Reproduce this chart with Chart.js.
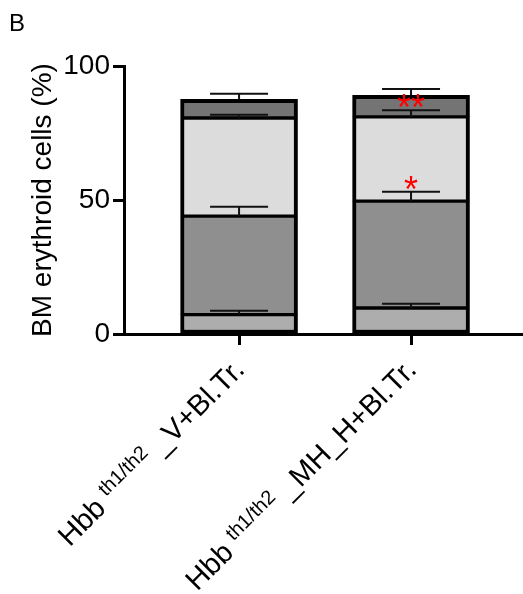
<!DOCTYPE html>
<html lang="en">
  <head>
    <meta charset="UTF-8" />
    <title>BM erythroid cells</title>
    <script src="https://cdn.jsdelivr.net/npm/chart.js@4.4.0/dist/chart.umd.min.js"></script>
    <style>
      body {
        margin: 0;
        padding: 0;
        background: white;
      }
      .container {
        position: relative;
        width: 523px;
        height: 594px;
      }
    </style>
  </head>
  <body>
    <div class="container">
      <canvas id="chart"></canvas>
    </div>
    <script>
      // category labels: base text, superscript, rest
      const labelBase = ['Hbb', 'Hbb']
      const labelSup = ['th1/th2', 'th1/th2']
      const labelRest = [' _V+Bl.Tr.', ' _MH_H+Bl.Tr.']

      // stacked segments, bottom to top (% of BM erythroid cells)
      const segment1 = [7.2, 9.7]
      const segment2 = [36.8, 39.9]
      const segment3 = [36.6, 31.4]
      const segment4 = [7.0, 8.1]

      // upper error (SD) of each segment
      const error1 = [1.5, 1.6]
      const error2 = [3.5, 3.5]
      const error3 = [1.2, 2.5]
      const error4 = [2.0, 2.3]

      // significance marks above segment error bars
      const stars2 = ['', '*']
      const stars3 = ['', '**']

      const yTicks = [0, 50, 100]

      const segments = [segment1, segment2, segment3, segment4]
      const errors = [error1, error2, error3, error4]
      const stars = [[], stars2, stars3, []]
      const fills = ['#adadad', '#8f8f8f', '#dcdcdc', '#747474']
      const borders = [
        { top: 2, bottom: 4, left: 4, right: 4 },
        { top: 2, bottom: 2, left: 4, right: 4 },
        { top: 2, bottom: 2, left: 4, right: 4 },
        { top: 4, bottom: 2, left: 4, right: 4 },
      ]

      const FONT = 'Arial, "Liberation Sans", sans-serif'
      Chart.defaults.font.family = FONT
      Chart.defaults.color = '#000'

      const extras = {
        id: 'extras',
        afterDatasetsDraw(chart) {
          const { ctx, scales } = chart
          const x = scales.x
          const y = scales.y
          ctx.save()
          ctx.strokeStyle = '#111'
          ctx.lineWidth = 2
          segments.forEach((seg, s) => {
            seg.forEach((v, i) => {
              let top = 0
              for (let k = 0; k <= s; k++) top += segments[k][i]
              const px = x.getPixelForValue(i)
              const y0 = y.getPixelForValue(top)
              const y1 = y.getPixelForValue(top + errors[s][i])
              ctx.beginPath()
              ctx.moveTo(px, y0)
              ctx.lineTo(px, y1)
              ctx.moveTo(px - 29, y1)
              ctx.lineTo(px + 29, y1)
              ctx.stroke()
              const mark = stars[s][i]
              if (mark) {
                ctx.fillStyle = '#ff0000'
                ctx.font = '36px ' + FONT
                ctx.textAlign = 'center'
                ctx.textBaseline = 'alphabetic'
                ctx.fillText(mark, px, y1 + 10)
              }
            })
          })
          ctx.restore()
        },
        afterDraw(chart) {
          const { ctx, scales } = chart
          const x = scales.x
          const y = scales.y
          ctx.save()
          ctx.fillStyle = '#000'
          ctx.textBaseline = 'alphabetic'
          ctx.textAlign = 'left'
          ctx.font = '24px ' + FONT
          ctx.fillText('B', 9, 31)

          labelBase.forEach((base, i) => {
            const px = x.getPixelForValue(i) + 7
            const py = y.getPixelForValue(0) + 37
            ctx.save()
            ctx.translate(px, py)
            ctx.rotate(-Math.PI / 4)
            ctx.textAlign = 'right'
            ctx.font = '29px ' + FONT
            ctx.fillText(labelRest[i], 0, 0)
            const wRest = ctx.measureText(labelRest[i]).width
            ctx.font = '20px ' + FONT
            ctx.fillText(labelSup[i], -wRest, -10)
            const wSup = ctx.measureText(labelSup[i]).width
            ctx.font = '29px ' + FONT
            ctx.fillText(base + ' ', -wRest - wSup, 0)
            ctx.restore()
          })
          ctx.restore()
        },
      }

      new Chart(document.getElementById('chart'), {
        type: 'bar',
        data: {
          datasets: segments.map((seg, s) => ({
            data: seg.map((v, i) => ({ x: i, y: v })),
            backgroundColor: fills[s],
            borderColor: '#000',
            borderWidth: borders[s],
            borderSkipped: false,
            barThickness: 117,
          })),
        },
        options: {
          responsive: true,
          maintainAspectRatio: false,
          animation: false,
          layout: { padding: { top: 66, left: 0, right: 0, bottom: 0 } },
          plugins: {
            legend: { display: false },
            tooltip: { enabled: false },
          },
          scales: {
            x: {
              type: 'linear',
              stacked: true,
              offset: false,
              min: -0.669,
              max: 1.651,
              afterBuildTicks: (scale) => {
                scale.ticks = labelBase.map((l, i) => ({ value: i }))
              },
              afterFit: (scale) => {
                scale.height = 260
              },
              ticks: { display: false },
              grid: {
                offset: false,
                drawOnChartArea: false,
                drawTicks: true,
                tickLength: 11,
                tickWidth: 3,
                tickColor: '#000',
              },
              border: { color: '#000', width: 3 },
            },
            y: {
              stacked: true,
              min: 0,
              max: 100,
              afterBuildTicks: (scale) => {
                scale.ticks = yTicks.map((v) => ({ value: v }))
              },
              afterFit: (scale) => {
                scale.width = 124
              },
              ticks: {
                font: { size: 28 },
                color: '#000',
                padding: 3,
              },
              grid: {
                drawOnChartArea: false,
                drawTicks: true,
                tickLength: 11,
                tickWidth: 3,
                tickColor: '#000',
              },
              border: { color: '#000', width: 3 },
              title: {
                display: true,
                text: 'BM erythroid cells (%)',
                font: { size: 28 },
                color: '#000',
                padding: { top: 26, bottom: 0 },
              },
            },
          },
        },
        plugins: [extras],
      })
    </script>
  </body>
</html>
